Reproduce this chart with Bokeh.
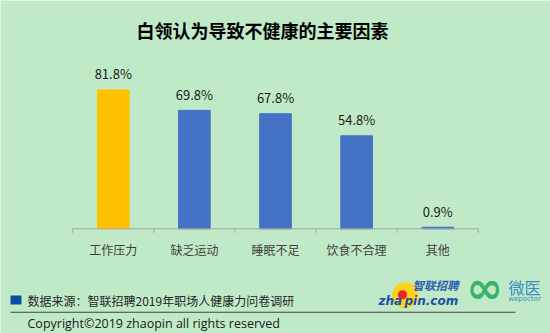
from bokeh.plotting import figure
from bokeh.models import (ColumnDataSource, LabelSet, Label, FactorRange, Range1d, BoxAnnotation)
from bokeh.core.properties import value
from bokeh.embed import file_html
from bokeh.resources import INLINE

# ---- data ----
title = "白领认为导致不健康的主要因素"
categories = ["工作压力", "缺乏运动", "睡眠不足", "饮食不合理", "其他"]
values = [81.8, 69.8, 67.8, 54.8, 0.9]
bar_colors = ["#FFC000", "#4472C4", "#4472C4", "#4472C4", "#4472C4"]
source_note = "数据来源：智联招聘2019年职场人健康力问卷调研"
copyright_note = "Copyright©2019 zhaopin all rights reserved"

# ---- layout constants ----
W, H = 550, 333
BASELINE_PX = 228.3      # canvas y of value 0
PX_PER_UNIT = 1.697
TICK_PX = 4
BG = "#C0EAC7"
CJK = "Noto Sans CJK SC"
AXIS_COLOR = "#A6A6A6"

def sx(px):  # canvas px -> screen units (frame fills canvas)
    return px

def sy(py):  # canvas px from top -> screen units from bottom
    return H - py

y_start = -(H - BASELINE_PX) / PX_PER_UNIT
y_end = BASELINE_PX / PX_PER_UNIT

src = ColumnDataSource(dict(
    cat=categories, val=values, color=bar_colors,
    label=[f"{v}%" for v in values],
))

p = figure(width=W, height=H,
           x_range=FactorRange(*categories, range_padding=0.89, range_padding_units="absolute"),
           y_range=Range1d(y_start, y_end),
           output_backend="svg", toolbar_location=None,
           x_axis_location=None, y_axis_location=None,
           min_border=0,
           background_fill_color=BG, border_fill_color=BG,
           outline_line_color=None)
p.xgrid.visible = False
p.ygrid.visible = False

p.vbar(x="cat", top="val", width=0.39, fill_color="color", line_color="color", source=src)

# axis line and ticks at category boundaries (Excel style)
edges = [(c, -0.5) for c in categories] + [(categories[-1], 0.5)]
tick_end = -TICK_PX / PX_PER_UNIT
p.segment(x0=[edges[0]], y0=[0], x1=[edges[-1]], y1=[0], line_color=AXIS_COLOR, line_width=1)
p.segment(x0=edges, y0=[0] * len(edges), x1=edges, y1=[tick_end] * len(edges),
          line_color=AXIS_COLOR, line_width=1)

# category labels
p.add_layout(LabelSet(x="cat", y=0, text="cat", source=src, y_offset=-20.7,
                      text_align="center", text_baseline="middle",
                      text_font=value(CJK), text_font_size="12px", text_color="#404040"))

# value labels
p.add_layout(LabelSet(x="cat", y="val", text="label", source=src, y_offset=16,
                      text_align="center", text_baseline="middle",
                      text_font=value(CJK), text_font_size="13px", text_color="#1A1A1A"))

# title
p.add_layout(Label(x=sx(262), y=sy(29), x_units="screen", y_units="screen", text=title,
                   text_align="center", text_baseline="middle", text_font=CJK,
                   text_font_size="18px", text_font_style="bold", text_color="#000000"))

def box(l, r, t, b, color, radius=0):
    return BoxAnnotation(left=sx(l), right=sx(r), top=sy(t), bottom=sy(b),
                         left_units="screen", right_units="screen",
                         top_units="screen", bottom_units="screen",
                         fill_color=color, fill_alpha=1, line_color=None,
                         border_radius=radius)

def dot(cx, cy, size, color):
    return Label(x=sx(cx), y=sy(cy), x_units="screen", y_units="screen", text="●",
                 text_align="center", text_baseline="middle", text_font="DejaVu Sans",
                 text_font_size=f"{size}px", text_color=color)

# footer
p.add_layout(box(10, 21, 295, 304, "#0A4EA6"))
p.add_layout(Label(x=sx(27), y=sy(300), x_units="screen", y_units="screen", text=source_note,
                   text_align="left", text_baseline="middle", text_font=CJK,
                   text_font_size="12px", text_color="#262626"))
p.add_layout(box(10, 515, 311.2, 312.2, "#404040"))
p.add_layout(Label(x=sx(27), y=sy(323), x_units="screen", y_units="screen", text=copyright_note,
                   text_align="left", text_baseline="middle", text_font="Open Sans",
                   text_font_size="12.5px", text_color="#1A1A1A"))

# logos (approximate)
p.add_layout(dot(405, 291, 34, "#FFD21F"))
p.add_layout(dot(402, 293.5, 12, "#E8262A"))
p.add_layout(Label(x=sx(378), y=sy(300), x_units="screen", y_units="screen", text="zha",
                   text_align="left", text_baseline="alphabetic", text_font="DejaVu Sans",
                   text_font_size="12px", text_font_style="bold italic", text_color="#1C4FA1"))
p.add_layout(Label(x=sx(404), y=sy(300), x_units="screen", y_units="screen", text="pin.com",
                   text_align="left", text_baseline="alphabetic", text_font="DejaVu Sans",
                   text_font_size="12px", text_font_style="bold italic", text_color="#1C4FA1"))
p.add_layout(Label(x=sx(435), y=sy(284), x_units="screen", y_units="screen", text="智联招聘",
                   text_align="center", text_baseline="middle", text_font=CJK,
                   text_font_size="11.5px", text_font_style="bold italic", text_color="#2B5DB0"))
p.add_layout(Label(x=sx(484), y=sy(287), x_units="screen", y_units="screen", text="∞",
                   text_align="center", text_baseline="middle", text_font="DejaVu Sans",
                   text_font_size="44px", text_font_style="bold", text_color="#37B36A"))
p.add_layout(Label(x=sx(524), y=sy(286), x_units="screen", y_units="screen", text="微医",
                   text_align="center", text_baseline="middle", text_font=CJK,
                   text_font_size="16px", text_color="#3A8CC6"))
p.add_layout(Label(x=sx(524), y=sy(298), x_units="screen", y_units="screen", text="wepoctor",
                   text_align="center", text_baseline="middle", text_font="DejaVu Sans",
                   text_font_size="7px", text_color="#3A8CC6"))

open("out.html", "w").write(file_html(p, INLINE))
